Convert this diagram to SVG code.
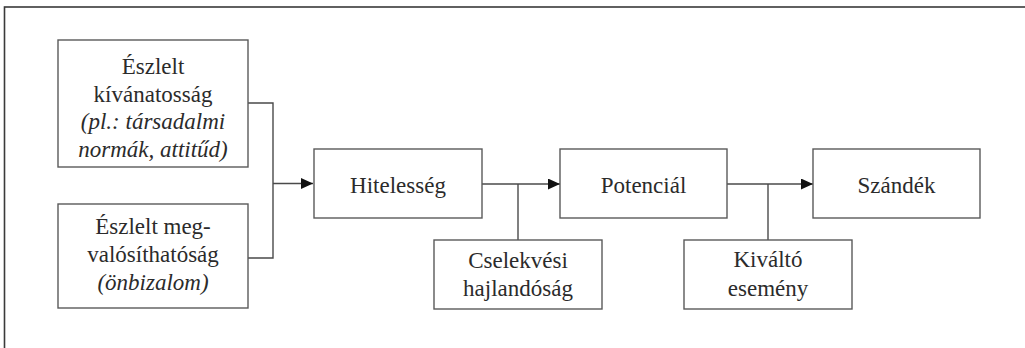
<svg xmlns="http://www.w3.org/2000/svg" width="1025" height="348" viewBox="0 0 1025 348">
<style>
.box{fill:#fff;stroke:#5a5a5a;stroke-width:1.4}
.t{font-family:"Liberation Serif","DejaVu Serif",serif;font-size:23px;fill:#2b2b2b;text-anchor:middle}
.i{font-style:italic}
.c{fill:none;stroke:#4a4a4a;stroke-width:1.4}
</style>
<defs>
<marker id="ah" markerWidth="12" markerHeight="11" refX="12" refY="5.5" orient="auto" markerUnits="userSpaceOnUse">
<path d="M0,0 L12,5.5 L0,11 Z" fill="#111"/>
</marker>
</defs>
<rect x="4.5" y="7" width="1040" height="360" fill="none" stroke="#3a3a3a" stroke-width="1.6"/>
<g id="connectors">
<path class="c" d="M248,103 H273 V258 H248"/>
<path class="c" d="M273,183.5 H313" marker-end="url(#ah)"/>
<path class="c" d="M482,184 H560" marker-end="url(#ah)"/>
<path class="c" d="M518,184 V240"/>
<path class="c" d="M727,184 H813" marker-end="url(#ah)"/>
<path class="c" d="M768,184 V240"/>
</g>
<g id="eszlelt-kivanatossag">
<rect class="box" x="58" y="40" width="190" height="127"/>
<text class="t" x="153" y="74">Észlelt</text>
<text class="t" x="153" y="101.5">kívánatosság</text>
<text class="t i" x="153" y="129">(pl.: társadalmi</text>
<text class="t i" x="153" y="156.5">normák, attitűd)</text>
</g>
<g id="eszlelt-megvalosithatosag">
<rect class="box" x="58" y="204" width="190" height="104"/>
<text class="t" x="153" y="234">Észlelt meg-</text>
<text class="t" x="153" y="262">valósíthatóság</text>
<text class="t i" x="153" y="290">(önbizalom)</text>
</g>
<g id="hitelesseg">
<rect class="box" x="314" y="149" width="168" height="69"/>
<text class="t" x="398" y="193">Hitelesség</text>
</g>
<g id="potencial">
<rect class="box" x="560" y="149" width="167" height="69"/>
<text class="t" x="643.5" y="193">Potenciál</text>
</g>
<g id="szandek">
<rect class="box" x="813" y="149" width="167" height="69"/>
<text class="t" x="896.5" y="193">Szándék</text>
</g>
<g id="cselekvesi-hajlandosag">
<rect class="box" x="434" y="240" width="168" height="69"/>
<text class="t" x="518" y="268">Cselekvési</text>
<text class="t" x="518" y="296">hajlandóság</text>
</g>
<g id="kivalto-esemeny">
<rect class="box" x="684" y="240" width="168" height="69"/>
<text class="t" x="768" y="267">Kiváltó</text>
<text class="t" x="768" y="296">esemény</text>
</g>
</svg>
